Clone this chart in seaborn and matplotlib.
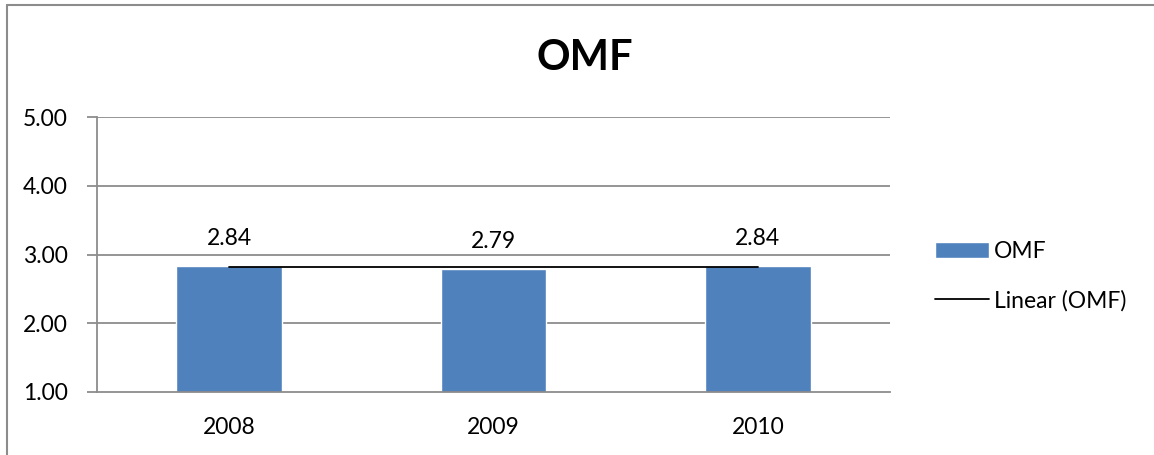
import numpy as np
import pandas as pd
import matplotlib
matplotlib.use('Agg')
import matplotlib.pyplot as plt
from matplotlib.lines import Line2D
import seaborn as sns

# ----- DATA -----
years = ['2008', '2009', '2010']
omf = [2.84, 2.79, 2.84]
y_ticks = [1.0, 2.0, 3.0, 4.0, 5.0]

df = pd.DataFrame({'year': years, 'OMF': omf})

sns.set_theme(style='white')
plt.rcParams['font.family'] = ['Lato', 'DejaVu Sans']
plt.rcParams['text.color'] = 'black'
plt.rcParams['xtick.color'] = 'black'
plt.rcParams['ytick.color'] = 'black'

bar_color = '#4F81BD'
grid_color = '#8C8C8C'
fs = 16.5

fig = plt.figure(figsize=(11.54, 4.55), dpi=100)
ax = fig.add_axes([97 / 1154, 63 / 455, 793 / 1154, 275 / 455])

sns.barplot(data=df, x='year', y='OMF', color=bar_color, width=0.4,
            saturation=1, ax=ax, label='OMF')

# linear trendline like excel
xs = np.arange(len(omf))
slope, intercept = np.polyfit(xs, omf, 1)
trend, = ax.plot(xs, slope * xs + intercept, color='black', lw=1.3, label='Linear (OMF)')

ax.bar_label(ax.containers[0], labels=[f'{v:.2f}' for v in omf],
             padding=12, fontsize=fs, color='black')

ax.set_ylim(1, 5)
ax.set_xlim(-0.5, 2.5)
ax.set_yticks(y_ticks)
ax.set_yticklabels([f'{v:.2f}' for v in y_ticks])
ax.set_xlabel('')
ax.set_ylabel('')

# gridlines
for v in y_ticks[1:]:
    ax.axhline(v, color=grid_color, lw=1.3, zorder=0)

for s in ['top', 'right']:
    ax.spines[s].set_visible(False)
for s in ['left', 'bottom']:
    ax.spines[s].set_color(grid_color)
    ax.spines[s].set_linewidth(1.3)

ax.set_xticks([-0.5, 0.5, 1.5, 2.5], minor=True)
ax.tick_params(axis='x', which='major', length=0, pad=18, labelsize=fs)
ax.tick_params(axis='x', which='minor', length=7, width=1.3, color=grid_color, direction='out')
ax.tick_params(axis='y', which='major', length=7, width=1.3, color=grid_color,
               direction='out', pad=14, labelsize=fs, left=True)

bars = ax.containers[0]
ax.legend([bars, trend], ['OMF', 'Linear (OMF)'], loc='center left',
          bbox_to_anchor=(1.031, 0.42), frameon=False, fontsize=fs,
          handlelength=2.36, handletextpad=0.2, labelspacing=1.2)

fig.text(585 / 1154, 397 / 455, 'OMF', ha='center', va='center',
         fontsize=30, fontweight='bold', color='black')

# chart frame (left and top edges visible)
fx = 7 / 1154
fy = 1 - 5 / 455
fig.add_artist(Line2D([fx, fx], [0, fy], color='#8C8C8C', lw=1.5))
fig.add_artist(Line2D([fx, 1], [fy, fy], color='#8C8C8C', lw=1.5))

fig.savefig('out.png', dpi=100)
